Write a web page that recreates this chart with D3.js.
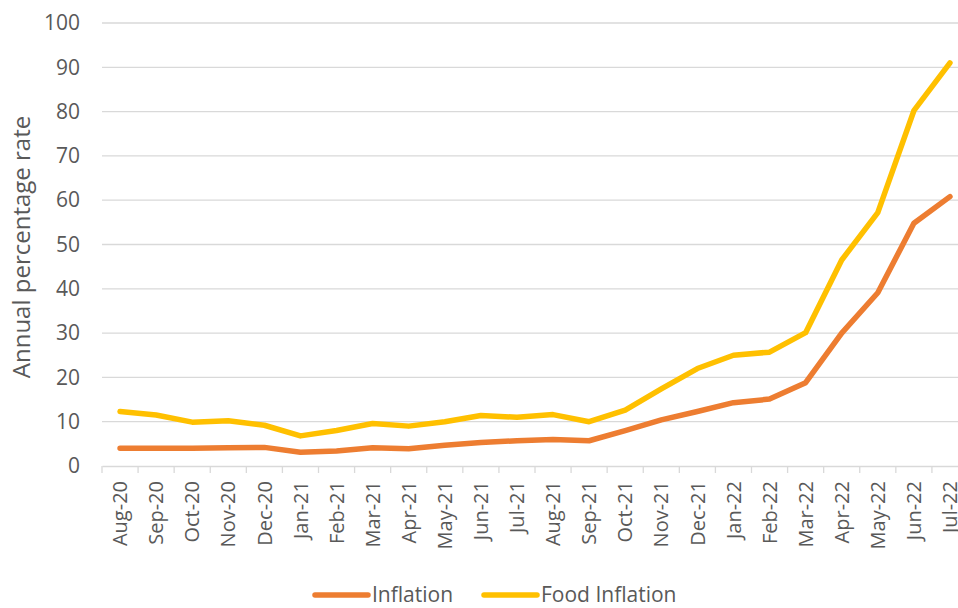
<!DOCTYPE html>
<html lang="en">
<head>
<meta charset="UTF-8">
<title>Inflation</title>
<script src="https://d3js.org/d3.v7.min.js"></script>
<style>
  body { margin: 0; background: #fff; }
  svg { font-family: "Open Sans", sans-serif; }
  .grid line { stroke: #d9d9d9; stroke-width: 1.3; }
  .xaxis text { font-family: "Open Sans", sans-serif; font-size: 20px; fill: #595959; }
  .yaxis text { font-family: "Open Sans", sans-serif; font-size: 21px; fill: #595959; }
</style>
</head>
<body>
<div id="chart"></div>
<script>
// months on the x axis
var months = ["Aug-20", "Sep-20", "Oct-20", "Nov-20", "Dec-20", "Jan-21", "Feb-21", "Mar-21",
  "Apr-21", "May-21", "Jun-21", "Jul-21", "Aug-21", "Sep-21", "Oct-21", "Nov-21", "Dec-21",
  "Jan-22", "Feb-22", "Mar-22", "Apr-22", "May-22", "Jun-22", "Jul-22"];

// annual percentage rates
var inflation = [4.0, 4.0, 4.0, 4.1, 4.2, 3.1, 3.4, 4.1, 3.9, 4.7, 5.3, 5.7, 6.0, 5.7,
  8.0, 10.4, 12.3, 14.3, 15.1, 18.8, 30.0, 39.1, 54.8, 60.8];
var foodInflation = [12.3, 11.5, 9.9, 10.2, 9.2, 6.8, 8.0, 9.6, 9.0, 10.0, 11.4, 11.0, 11.6, 10.0,
  12.6, 17.4, 22.0, 25.0, 25.7, 30.1, 46.5, 57.2, 80.2, 91.0];

var yTicks = [0, 10, 20, 30, 40, 50, 60, 70, 80, 90, 100];

var series = [
  {name: "Inflation", values: inflation, color: "#ed7d31"},
  {name: "Food Inflation", values: foodInflation, color: "#ffc000"}
];

var width = 958, height = 608;
var plotLeft = 102, plotRight = 968, plotTop = 23, plotBottom = 466;

var svg = d3.select("#chart").append("svg")
    .attr("width", width)
    .attr("height", height);

var x = d3.scaleBand().domain(months).range([plotLeft, plotRight]);
var y = d3.scaleLinear().domain([0, 100]).range([plotBottom, plotTop]);

// horizontal gridlines
svg.append("g").attr("class", "grid")
  .selectAll("line")
  .data(yTicks.filter(function(d) { return d > 0; }))
  .enter().append("line")
    .attr("x1", plotLeft).attr("x2", width)
    .attr("y1", function(d) { return y(d); })
    .attr("y2", function(d) { return y(d); });

// y axis labels only
var yAxis = svg.append("g").attr("class", "yaxis")
    .attr("transform", "translate(" + plotLeft + ",0)")
    .call(d3.axisLeft(y).tickValues(yTicks).tickSize(0).tickPadding(22));
yAxis.select(".domain").remove();

// x axis with ticks between months
var xAxis = svg.append("g").attr("class", "xaxis")
    .attr("transform", "translate(0," + plotBottom + ")")
    .call(d3.axisBottom(x).tickSize(0));
xAxis.select(".domain").attr("stroke", "#d9d9d9").attr("stroke-width", 1.3);
xAxis.selectAll(".tick text")
    .attr("transform", "rotate(-90)")
    .attr("text-anchor", "end")
    .attr("x", -15)
    .attr("y", 0)
    .attr("dy", "0.36em");

xAxis.selectAll(".sep")
  .data(months)
  .enter().append("line")
    .attr("class", "sep")
    .attr("x1", function(d) { return x(d); })
    .attr("x2", function(d) { return x(d); })
    .attr("y1", 0).attr("y2", 7)
    .attr("stroke", "#d9d9d9").attr("stroke-width", 1.3);

// axis title
svg.append("text")
    .attr("transform", "translate(30,247) rotate(-90)")
    .attr("text-anchor", "middle")
    .attr("fill", "#595959")
    .style("font-size", "24px")
    .text("Annual percentage rate");

// lines
var line = d3.line()
    .x(function(d, i) { return x(months[i]) + x.bandwidth() / 2; })
    .y(function(d) { return y(d); });

svg.selectAll(".series")
  .data(series)
  .enter().append("path")
    .attr("class", "series")
    .attr("d", function(s) { return line(s.values); })
    .attr("fill", "none")
    .attr("stroke", function(s) { return s.color; })
    .attr("stroke-width", 5.5)
    .attr("stroke-linejoin", "round")
    .attr("stroke-linecap", "round");

// legend
var legend = svg.append("g").attr("transform", "translate(0,595)");
var legendX = [313, 482];
series.forEach(function(s, i) {
  var g = legend.append("g").attr("transform", "translate(" + legendX[i] + ",0)");
  g.append("line")
      .attr("x1", 2).attr("x2", 55)
      .attr("stroke", s.color).attr("stroke-width", 5.5)
      .attr("stroke-linecap", "round");
  g.append("text")
      .attr("x", 59).attr("dy", "0.35em")
      .attr("fill", "#595959")
      .style("font-size", "21px")
      .text(s.name);
});
</script>
</body>
</html>
